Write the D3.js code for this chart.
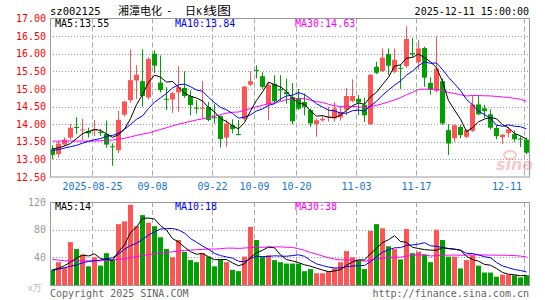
<!DOCTYPE html>
<html><head><meta charset="utf-8">
<script src="https://cdn.jsdelivr.net/npm/d3@7"></script>
<style>body{margin:0;background:#fff}svg{display:block}</style>
</head><body>
<svg id="c" width="545" height="300"></svg>
<script>
// ---------------- data ----------------
const dates = ["2025-08-14","2025-08-15","2025-08-18","2025-08-19","2025-08-20","2025-08-21","2025-08-22",
"2025-08-25","2025-08-26","2025-08-27","2025-08-28","2025-08-29",
"2025-09-01","2025-09-02","2025-09-03","2025-09-04","2025-09-05",
"2025-09-08","2025-09-09","2025-09-10","2025-09-11","2025-09-12",
"2025-09-15","2025-09-16","2025-09-17","2025-09-18","2025-09-19",
"2025-09-22","2025-09-23","2025-09-24","2025-09-25","2025-09-26",
"2025-09-29","2025-09-30","2025-10-09","2025-10-10",
"2025-10-13","2025-10-14","2025-10-15","2025-10-16","2025-10-17",
"2025-10-20","2025-10-21","2025-10-22","2025-10-23","2025-10-24",
"2025-10-27","2025-10-28","2025-10-29","2025-10-30","2025-10-31",
"2025-11-03","2025-11-04","2025-11-05","2025-11-06","2025-11-07",
"2025-11-10","2025-11-11","2025-11-12","2025-11-13","2025-11-14",
"2025-11-17","2025-11-18","2025-11-19","2025-11-20","2025-11-21",
"2025-11-24","2025-11-25","2025-11-26","2025-11-27","2025-11-28",
"2025-12-01","2025-12-02","2025-12-03","2025-12-04","2025-12-05",
"2025-12-08","2025-12-09","2025-12-10","2025-12-11"];

const open  = [13.30,13.15,13.42,13.62,13.92,13.83,13.80,13.82,13.78,13.72,
               13.37,13.26,14.27,14.68,15.24,15.22,14.76,16.00,15.18,14.72,
               14.70,14.90,15.03,14.80,14.47,14.44,14.49,14.20,14.23,13.62,
               13.97,13.72,14.15,15.12,15.54,15.36,14.56,15.15,15.00,14.92,
               14.77,14.73,14.63,14.40,14.00,14.11,14.20,14.16,14.19,14.41,
               14.66,14.72,14.55,14.00,15.63,15.51,15.99,15.49,15.60,15.65,
               16.02,15.76,16.16,15.17,14.95,15.22,13.83,13.60,13.92,13.64,
               13.81,14.56,14.45,14.28,13.89,13.63,13.75,13.72,13.59,13.56];
const high  = [13.40,13.52,13.62,14.00,14.20,14.15,13.90,14.12,13.86,14.10,
               13.45,14.38,14.66,16.12,15.68,16.12,15.90,16.10,15.95,15.05,
               14.92,15.65,15.50,14.96,14.68,15.22,14.63,14.58,14.25,14.13,
               14.14,14.12,15.08,15.50,15.67,15.48,15.17,15.39,15.39,15.29,
               15.17,15.00,14.87,14.44,14.16,14.25,14.49,14.63,14.50,15.02,
               15.27,14.83,14.75,15.42,15.77,16.15,16.15,16.15,15.70,16.78,
               16.45,16.40,16.20,15.33,16.49,15.30,14.00,13.99,13.98,13.85,
               14.82,14.82,14.55,14.42,13.97,13.72,13.93,13.82,13.66,13.62];
const low   = [13.00,13.05,13.38,13.56,13.72,13.55,13.62,13.66,13.66,13.33,
               12.82,13.18,14.22,14.60,14.72,14.50,14.70,15.45,14.90,14.40,
               14.32,14.35,14.75,14.25,14.30,14.16,14.08,14.02,13.34,13.36,
               13.74,13.68,14.10,15.08,15.30,15.00,14.11,14.58,14.66,14.58,
               14.00,14.40,14.25,13.92,13.64,14.07,14.07,14.07,14.10,14.26,
               14.62,14.26,14.06,13.98,15.42,15.48,15.40,15.45,15.00,15.60,
               15.90,15.55,15.06,14.84,14.90,13.98,13.12,13.50,13.60,13.60,
               13.78,14.25,14.17,13.85,13.57,13.44,13.62,13.50,13.35,13.15];
const close = [13.13,13.45,13.56,13.90,13.90,13.85,13.74,13.86,13.76,13.42,
               13.35,14.12,14.64,15.25,15.40,14.80,15.85,15.66,14.97,14.70,
               14.88,15.05,14.80,14.54,14.44,14.47,14.12,14.18,13.58,14.02,
               13.86,13.70,15.07,15.22,15.52,15.06,15.12,14.65,14.96,14.85,
               14.08,14.44,14.49,14.02,14.11,14.15,14.22,14.44,14.35,14.80,
               14.80,14.62,14.25,15.40,15.46,15.89,15.66,15.83,15.58,16.42,
               15.98,16.15,15.32,14.98,15.58,14.02,13.45,13.97,13.69,13.83,
               14.56,14.28,14.37,13.90,13.66,13.70,13.85,13.57,13.57,13.19];
// volume, 万
const volume = [22,33,25,62,52,44,27,40,28,46,
                37,88,92,116,85,101,90,85,69,52,
                40,65,48,36,33,46,41,27,37,33,
                22,20,41,84,65,41,43,36,33,31,
                31,31,20,23,17,17,20,24,33,49,
                40,36,23,78,88,82,56,52,37,81,
                46,48,44,33,80,65,41,41,24,36,
                43,28,18,18,12,15,15,14,11,14];

// moving-average values for days whose window starts before the chart
const ma5Head  = [13.30,13.33,13.38,13.45];
const ma10Head = [13.25,13.28,13.32,13.36,13.40,13.46,13.51,13.56,13.59];
const ma30Head = [13.52,13.52,13.52,13.52,13.52,13.52,13.52,13.52,13.53,13.54,
                  13.55,13.57,13.60,13.64,13.68,13.72,13.75,13.80,13.85,13.90,
                  13.95,14.00,14.04,14.08,14.12,14.15,14.19,14.23,14.27];
const volMa5Head  = [22,24,28,33];
const volMa10Head = [21,23,25,27,29,32,34,35,36];
const volMa30Head = [37,36,35,35,35,35,35,35,35,35.5,36,37,38,39.5,41,42.5,44,45,46,47,
                     48,49,50,50.5,51,51.5,52,52,52.5];

const priceTicks = [17.00,16.50,16.00,15.50,15.00,14.50,14.00,13.50,13.00,12.50];
const volTicks = [120,80,40];
const dateTicks = ["2025-08-25","2025-09-08","2025-09-22","2025-10-09","2025-10-20","2025-11-03","2025-11-17","2025-12-11"];
const dateTickLabels = ["2025-08-25","09-08","09-22","10-09","10-20","11-03","11-17","12-11"];
const mainLegend = ["MA5:13.55","MA10:13.84","MA30:14.63"];
const volLegend = ["MA5:14","MA10:18","MA30:38"];
const title = {code:"sz002125", name:"湘潭电化", day:"日", k:"K", chart:"线图", time:"2025-12-11 15:00:00"};

// ---------------- drawing ----------------
const svg = d3.select("#c");
const MONO = "'DejaVu Sans Mono', monospace";
const CJK = "'Noto Sans CJK SC', sans-serif";
const UP = "#ff5454", DOWN = "#00a000";
const L = 50, R = 529;
const mainTop = 18.5, mainBot = 177;
const volTop = 202, volBot = 285;

const x = d3.scaleBand().domain(dates).range([49, 529]).paddingInner(0);
const xc = d => Math.round(x(d) + x.bandwidth()/2 - 0.5) + 0.5;
const y = d3.scaleLinear().domain([12.5, 17]).range([mainBot, mainTop]);
const yv = d3.scaleLinear().domain([0, 120]).range([volBot, volTop]);

function movingAvg(arr, n, head) {
  return arr.map((v, i) => i < n - 1 ? head[i] : d3.mean(arr.slice(i - n + 1, i + 1)));
}
const days = dates.map((d, i) => ({d, o: open[i], h: high[i], l: low[i], c: close[i], v: volume[i], up: close[i] >= open[i]}));

// ---- header ----
svg.append("text").attr("x", 50).attr("y", 15).attr("font-family", MONO).attr("font-size", 10.5).attr("fill", "#000").text(title.code);
svg.append("text").attr("x", 118).attr("y", 15).attr("font-family", CJK).attr("font-size", 11).attr("fill", "#000").text(title.name);
svg.append("text").attr("x", 166).attr("y", 14).attr("font-family", MONO).attr("font-size", 11).attr("fill", "#000").text("-");
svg.append("text").attr("x", 185).attr("y", 15).attr("font-family", CJK).attr("font-size", 11).attr("fill", "#000").text(title.day);
svg.append("text").attr("x", 196.5).attr("y", 15).attr("font-family", MONO).attr("font-size", 9).attr("fill", "#000").text(title.k);
svg.append("text").attr("x", 203).attr("y", 15).attr("font-family", CJK).attr("font-size", 11.5).attr("fill", "#000")
  .attr("textLength", 28).attr("lengthAdjust", "spacingAndGlyphs").text(title.chart);
svg.append("text").attr("x", 529).attr("y", 15).attr("text-anchor", "end").attr("font-family", MONO).attr("font-size", 10).attr("fill", "#000").text(title.time);

// ---- grids ----
function panelGrid(top, bot, yScale, ticks) {
  const g = svg.append("g");
  g.selectAll("line.h").data(ticks).join("line")
    .attr("x1", L).attr("x2", R)
    .attr("y1", d => Math.round(yScale(d)) + 0.5).attr("y2", d => Math.round(yScale(d)) + 0.5)
    .attr("stroke", "#999").attr("stroke-dasharray", "1,2");
  g.selectAll("line.v").data(dateTicks).join("line")
    .attr("x1", d => xc(d) - 2).attr("x2", d => xc(d) - 2)
    .attr("y1", top).attr("y2", bot)
    .attr("stroke", "#aaa").attr("stroke-dasharray", "5,3");
}
panelGrid(mainTop, mainBot, y, priceTicks.filter(t => t < 17 && t > 12.5));
panelGrid(volTop, volBot, yv, [80, 40]);

// ---- price axis labels ----
svg.append("g").selectAll("text").data(priceTicks).join("text")
  .attr("x", 46).attr("y", d => y(d)).attr("dy", "0.36em").attr("text-anchor", "end")
  .attr("font-family", MONO).attr("font-size", 10).attr("fill", "#ff0000")
  .text(d => d.toFixed(2));

// ---- date labels ----
const dl = svg.append("g").selectAll("text").data(dateTicks).join("text")
  .attr("y", 189.5).attr("text-anchor", "middle")
  .attr("font-family", MONO).attr("font-size", 10).attr("fill", "#1874cd")
  .text((d, i) => dateTickLabels[i]);
dl.attr("x", function(d) {
  const w = this.getComputedTextLength();
  return Math.min(xc(d) - 2, R - 7 - w / 2);
});

// ---- candles ----
const cg = svg.append("g");
cg.selectAll("line").data(days).join("line")
  .attr("x1", d => xc(d.d)).attr("x2", d => xc(d.d))
  .attr("y1", d => y(d.h)).attr("y2", d => y(d.l))
  .attr("stroke", d => d.up ? UP : DOWN).attr("stroke-width", 1);
cg.selectAll("rect").data(days).join("rect")
  .attr("x", d => xc(d.d) - 2.5).attr("width", 5)
  .attr("y", d => y(Math.max(d.o, d.c)))
  .attr("height", d => Math.max(1, Math.abs(y(d.o) - y(d.c))))
  .attr("fill", d => d.up ? UP : DOWN);

// ---- price MAs ----
const line = d3.line().x(d => d[0]).y(d => d[1]);
function drawMA(vals, yScale, color) {
  svg.append("path").datum(vals.map((v, i) => [xc(dates[i]), yScale(v)]))
    .attr("d", line).attr("fill", "none").attr("stroke", color).attr("stroke-width", 1);
}
drawMA(movingAvg(close, 30, ma30Head), y, "#ff00ff");
drawMA(movingAvg(close, 10, ma10Head), y, "#0000ff");
drawMA(movingAvg(close, 5, ma5Head), y, "#000000");

// watermark
const wm = svg.append("g").attr("opacity", 0.35);
wm.append("text").attr("x", 496).attr("y", 170).attr("font-family", "'DejaVu Sans', sans-serif")
  .attr("font-weight", "bold").attr("font-style", "italic").attr("font-size", 16).attr("fill", "#e66").text("sina");
wm.append("ellipse").attr("cx", 510).attr("cy", 155).attr("rx", 6).attr("ry", 4).attr("fill", "none").attr("stroke", "#e66").attr("stroke-width", 2);

// ---- main frame ----
svg.append("rect").attr("x", L + 0.5).attr("y", mainTop).attr("width", R - L).attr("height", mainBot - mainTop)
  .attr("fill", "none").attr("stroke", "#999");

// main legend
const legX = [55, 175, 295], legC = ["#000", "#0000ff", "#ff00ff"];
svg.append("g").selectAll("text").data(mainLegend).join("text")
  .attr("x", (d, i) => legX[i]).attr("y", 27).attr("font-family", MONO).attr("font-size", 10)
  .attr("fill", (d, i) => legC[i]).text(d => d);

// ---- volume ----
svg.append("g").selectAll("rect").data(days).join("rect")
  .attr("x", d => xc(d.d) - 2.5).attr("width", 5)
  .attr("y", d => yv(d.v)).attr("height", d => volBot - yv(d.v))
  .attr("fill", d => d.up ? UP : DOWN);
drawMA(movingAvg(volume, 30, volMa30Head), yv, "#ff00ff");
drawMA(movingAvg(volume, 10, volMa10Head), yv, "#0000ff");
drawMA(movingAvg(volume, 5, volMa5Head), yv, "#000000");

svg.append("rect").attr("x", L + 0.5).attr("y", volTop + 0.5).attr("width", R - L).attr("height", volBot - volTop)
  .attr("fill", "none").attr("stroke", "#999");

svg.append("g").selectAll("text").data(volTicks).join("text")
  .attr("x", 46).attr("y", d => yv(d)).attr("dy", "0.36em").attr("text-anchor", "end")
  .attr("font-family", MONO).attr("font-size", 10).attr("fill", "#999").text(d => d);
svg.append("text").attr("x", 28).attr("y", 291).attr("font-family", CJK).attr("font-size", 9).attr("fill", "#bbb").text("x万");

svg.append("g").selectAll("text").data(volLegend).join("text")
  .attr("x", (d, i) => legX[i]).attr("y", 210).attr("font-family", MONO).attr("font-size", 10)
  .attr("fill", (d, i) => legC[i]).text(d => d);

// footer
svg.append("text").attr("x", 50).attr("y", 296.5).attr("font-family", MONO).attr("font-size", 10).attr("fill", "#666").text("Copyright 2025 SINA.COM");
svg.append("text").attr("x", 529).attr("y", 296.5).attr("text-anchor", "end").attr("font-family", MONO).attr("font-size", 10).attr("fill", "#666").text("http://finance.sina.com.cn");
</script>
</body></html>
